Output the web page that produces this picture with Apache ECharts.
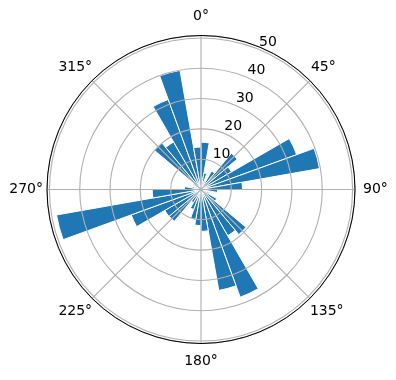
<!DOCTYPE html>
<html>
<head>
<meta charset="utf-8">
<script src="https://cdn.jsdelivr.net/npm/echarts@6/dist/echarts.min.js"></script>
<style>
  html, body { margin: 0; padding: 0; background: #fff; }
  #chart { width: 396px; height: 380px; }
</style>
</head>
<body>
<div id="chart"></div>
<script>
// 10 degree direction bins (bin centres, compass degrees, clockwise from north)
const binCentres = [5, 15, 25, 35, 45, 55, 65, 75, 85, 95, 105, 115,
  125, 135, 145, 155, 165, 175, 185, 195, 205, 215, 225, 235,
  245, 255, 265, 275, 285, 295, 305, 315, 325, 335, 345, 355];
// bar lengths
const counts = [15.6, 5.5, 3, 7, 15.6, 11.6, 33.6, 39.7, 13.7, 5.5, 2, 3,
  6, 19.4, 17.6, 37.8, 33.8, 13.8, 11.9, 10, 7, 5, 13.7, 13.8,
  24.5, 48.4, 16.1, 5.5, 3, 2, 3, 20, 18.1, 31.6, 39.9, 14];
const angleTicks = [0, 45, 90, 135, 180, 225, 270, 315];
const radiusTicks = [10, 20, 30, 40, 50];
const rMax = 50.8;

const center = [201, 189.5];
const outer = 154;
const font = 'DejaVu Sans';

// push the angle labels out so their centres sit on one ring, like matplotlib
const labelPad = {
  0: [0, 0, 12, 0],
  45: [0, 0, 6, 1],
  90: [0, 0, 0, 8],
  135: [6, 0, 0, 0],
  180: [11, 0, 0, 0],
  225: [6, 0, 0, 0],
  270: [0, 4, 0, 0],
  315: [0, 0, 6, 0],
};
const rich = {};
angleTicks.forEach(a => {
  rich['a' + a] = { color: '#000', fontFamily: font, fontSize: 14, padding: labelPad[a] };
});

let chart = echarts.init(document.getElementById('chart'));
let option = {
  animation: false,
  polar: [
    { center: center, radius: outer }, // bars
    { center: center, radius: outer }, // grid + angle labels
    { center: center, radius: outer }, // radius labels along 22.5deg
  ],
  angleAxis: [
    {
      polarIndex: 0,
      type: 'category',
      data: binCentres,
      startAngle: 90,
      clockwise: true,
      show: false,
    },
    {
      polarIndex: 1,
      type: 'value',
      min: 0,
      max: 360,
      interval: 45,
      startAngle: 90,
      clockwise: true,
      z: 5,
      axisLine: { lineStyle: { color: '#000', width: 1 } },
      axisTick: { show: false },
      axisLabel: {
        color: '#000',
        fontFamily: font,
        fontSize: 14,
        margin: 0,
        formatter: v => (angleTicks.includes(v) ? '{a' + v + '|' + v + '°}' : ''),
        rich: rich,
      },
      splitLine: { lineStyle: { color: '#b0b0b0', width: 1.1 } },
    },
    {
      polarIndex: 2,
      type: 'value',
      min: 0,
      max: 360,
      startAngle: 67.5,
      show: false,
    },
  ],
  radiusAxis: [
    { polarIndex: 0, type: 'value', min: 0, max: rMax, show: false },
    {
      polarIndex: 1,
      type: 'value',
      min: 0,
      max: rMax,
      interval: 10,
      z: 5,
      axisLine: { show: false },
      axisTick: { show: false },
      axisLabel: { show: false },
      splitLine: { lineStyle: { color: '#b0b0b0', width: 1.1 } },
    },
    {
      polarIndex: 2,
      type: 'value',
      min: 0,
      max: rMax,
      interval: 10,
      z: 6,
      axisLine: { show: false },
      axisTick: { show: false },
      splitLine: { show: false },
      axisLabel: {
        color: '#000',
        fontFamily: font,
        fontSize: 14,
        margin: 0,
        align: 'center',
        verticalAlign: 'bottom',
        padding: [0, 0, 0, 18],
        formatter: v => (radiusTicks.includes(v) ? String(v) : ''),
      },
    },
  ],
  series: [
    {
      type: 'bar',
      coordinateSystem: 'polar',
      polarIndex: 0,
      data: counts,
      barCategoryGap: '0%',
      itemStyle: { color: '#1f77b4', borderColor: '#fff', borderWidth: 1 },
    },
  ],
};
chart.setOption(option);
</script>
</body>
</html>
